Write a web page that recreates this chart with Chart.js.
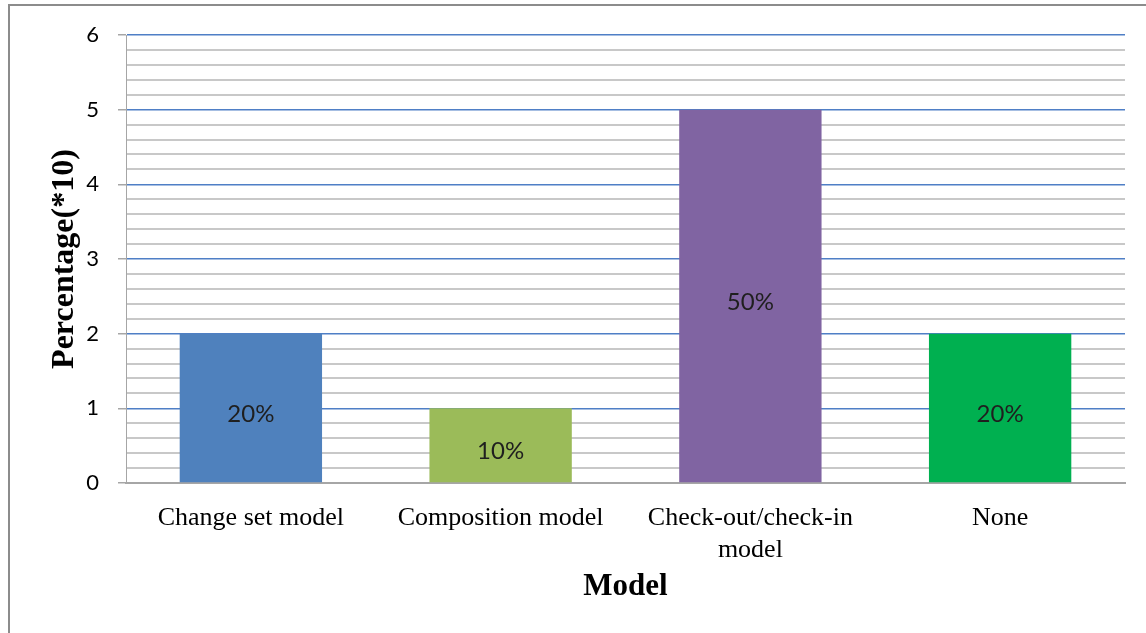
<!DOCTYPE html>
<html>
<head>
<meta charset="utf-8">
<script src="https://cdn.jsdelivr.net/npm/chart.js@4.4.1/dist/chart.umd.min.js"></script>
<style>
  html, body { margin: 0; padding: 0; background: #fff; overflow: hidden; }
  #frame { position: absolute; left: 8px; top: 4px; width: 1200px; height: 700px;
           border-left: 2px solid #8c8c8c; border-top: 2px solid #8c8c8c; }
  #wrap { position: absolute; left: 0; top: 0; width: 1146px; height: 633px; }
</style>
</head>
<body>
<div id="frame"></div>
<div id="wrap"><canvas id="modelChart"></canvas></div>
<script>
const categories = ["Change set model", "Composition model", ["Check-out/check-in", "model"], "None"];
const values = [2, 1, 5, 2];
const barLabels = ["20%", "10%", "50%", "20%"];
const barColors = ["#4F81BD", "#9BBB59", "#8064A2", "#00B050"];
const yTicks = [0, 1, 2, 3, 4, 5, 6];

const isMajor = v => Math.abs(v - Math.round(v)) < 1e-6;

// labels drawn in the middle of every bar
const barValueLabels = {
    id: 'barValueLabels',
    afterDatasetsDraw(chart) {
        const ctx = chart.ctx;
        const meta = chart.getDatasetMeta(0);
        ctx.save();
        ctx.font = '24px Lato';
        ctx.fillStyle = '#1f1f1f';
        ctx.textAlign = 'center';
        ctx.textBaseline = 'middle';
        meta.data.forEach((bar, i) => {
            ctx.fillText(barLabels[i], bar.x, (bar.y + bar.base) / 2 + 6);
        });
        ctx.restore();
    }
};

new Chart(document.getElementById('modelChart'), {
    type: 'bar',
    data: {
        labels: categories,
        datasets: [{
            data: values,
            backgroundColor: barColors,
            borderWidth: 0,
            barPercentage: 0.57,
            categoryPercentage: 1
        }]
    },
    options: {
        responsive: true,
        maintainAspectRatio: false,
        animation: false,
        layout: { padding: { top: 35, right: 21, bottom: 0, left: 0 } },
        plugins: { legend: { display: false }, tooltip: { enabled: false } },
        scales: {
            x: {
                afterFit: s => { s.height = 150; },
                grid: { display: false, drawTicks: false },
                border: { color: '#a6a6a6', width: 2 },
                ticks: {
                    padding: 20,
                    color: '#000',
                    font: { family: '"Liberation Serif"', size: 26, lineHeight: 1.2 },
                    maxRotation: 0,
                    autoSkip: false
                },
                title: {
                    display: true,
                    text: 'Model',
                    color: '#000',
                    font: { family: '"Liberation Serif"', size: 31, weight: 'bold', lineHeight: 1.2 },
                    padding: { top: 0, bottom: 27 }
                }
            },
            y: {
                min: yTicks[0],
                max: yTicks[yTicks.length - 1],
                afterFit: s => { s.width = 126; },
                border: { color: '#a6a6a6', width: 1 },
                grid: {
                    color: c => isMajor(c.tick.value) ? '#4f7fc6' : '#c8c8c8',
                    lineWidth: c => isMajor(c.tick.value) ? 1.5 : 2,
                    tickColor: c => isMajor(c.tick.value) ? '#a6a6a6' : 'rgba(0,0,0,0)',
                    tickLength: 8
                },
                ticks: {
                    stepSize: 0.2,
                    maxTicksLimit: 40,
                    autoSkip: false,
                    padding: 19,
                    color: '#000',
                    font: { family: 'Lato', size: 22 },
                    callback: v => isMajor(v) ? String(Math.round(v)) : ''
                },
                title: {
                    display: true,
                    text: 'Percentage(*10)',
                    color: '#000',
                    font: { family: '"Liberation Serif"', size: 32, weight: 'bold', lineHeight: 1.2 },
                    padding: { top: 46, bottom: 0 }
                }
            }
        }
    },
    plugins: [barValueLabels]
});
</script>
</body>
</html>
